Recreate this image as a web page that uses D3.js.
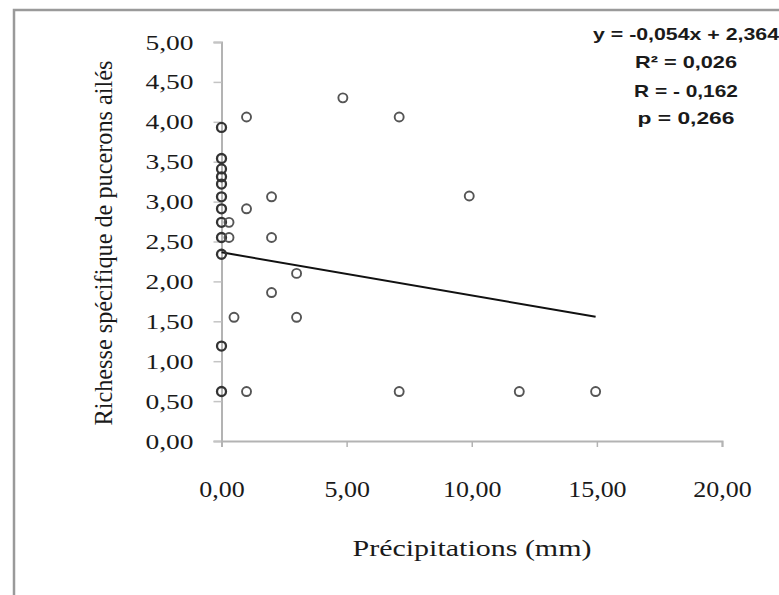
<!DOCTYPE html>
<html>
<head>
	<meta charset="utf-8">
	<title>Précipitations</title>
	<style>
		body { margin: 0; background: #fff; }
		svg { display: block; }
		.serif { font-family: "Liberation Serif", "Times New Roman", Times, serif; }
		.sans { font-family: "Liberation Sans", Arial, sans-serif; }
	</style>
</head>
<body>
	<svg width="779" height="595"></svg>
<script src="https://cdn.jsdelivr.net/npm/d3@7"></script>
<script>
	// données
	let precip = [0, 0, 0, 0, 0, 0, 0, 0, 0, 0, 0, 0,
		0.3, 0.3, 0.5, 1.0, 1.0, 1.0, 2.0, 2.0, 2.0, 3.0, 3.0,
		4.85, 7.1, 7.1, 9.9, 11.9, 14.95]
	let richesse = [3.93, 3.54, 3.41, 3.31, 3.22, 3.06, 2.91, 2.74, 2.55, 2.34, 1.19, 0.62,
		2.74, 2.55, 1.55, 4.06, 2.91, 0.62, 3.06, 2.55, 1.86, 2.10, 1.55,
		4.30, 4.06, 0.62, 3.07, 0.62, 0.62]
	let xTicks = [0, 5, 10, 15, 20]
	let yTicks = [0, 0.5, 1, 1.5, 2, 2.5, 3, 3.5, 4, 4.5, 5]
	let pente = -0.054, ordonnee = 2.364
	let stats = ["y = -0,054x + 2,364", "R² = 0,026", "R = - 0,162", "p =  0,266"]

	let svg = d3.select("svg")
	let fr = d3.formatLocale({ decimal: ",", thousands: " ", grouping: [3], currency: ["", " €"] })
	let fmt = fr.format(".2f")

	// étirement horizontal de l'image d'origine
	function widen(k) {
		return sel => sel.each(function () {
			let w = this.getComputedTextLength()
			d3.select(this).attr("textLength", w * k).attr("lengthAdjust", "spacingAndGlyphs")
		})
	}

	// cadre
	svg.append("rect")
		.attr("x", 14).attr("y", 10).attr("width", 800).attr("height", 620)
		.attr("fill", "none").attr("stroke", "#9a9a9a").attr("stroke-width", 2.5)

	let x = d3.scaleLinear().domain([0, 20]).range([221.5, 722])
	let y = d3.scaleLinear().domain([0, 5]).range([441, 42])

	// axe Y
	let gy = svg.append("g")
		.attr("transform", `translate(${x(0)},0)`)
		.call(d3.axisLeft(y).tickValues(yTicks).tickFormat(fmt).tickSize(8).tickPadding(20))
	gy.attr("font-family", null).attr("font-size", null)
	gy.select(".domain").attr("stroke", "#b3b3b3").attr("stroke-width", 2)
	gy.selectAll(".tick line").attr("stroke", "#c4c4c4").attr("stroke-width", 1.5)
	gy.selectAll(".tick text")
		.attr("class", "serif")
		.attr("font-size", 22).attr("fill", "#1a1a1a")
		.call(widen(1.25))

	// axe X
	let gx = svg.append("g")
		.attr("transform", `translate(0,${y(0)})`)
		.call(d3.axisBottom(x).tickValues(xTicks).tickFormat(fmt).tickSize(6).tickPadding(34))
	gx.attr("font-family", null).attr("font-size", null)
	gx.select(".domain").attr("stroke", "#b3b3b3").attr("stroke-width", 2)
	gx.selectAll(".tick line").attr("stroke", "#b3b3b3").attr("stroke-width", 1.5)
	gx.selectAll(".tick text")
		.attr("class", "serif")
		.attr("font-size", 23).attr("fill", "#1a1a1a")
		.call(widen(1.13))

	// titres des axes
	svg.append("text")
		.attr("class", "serif")
		.attr("x", 472).attr("y", 556)
		.attr("text-anchor", "middle")
		.attr("font-size", 23).attr("fill", "#1a1a1a")
		.text("Précipitations (mm)")
		.attr("textLength", 239).attr("lengthAdjust", "spacingAndGlyphs")

	svg.append("text")
		.attr("class", "serif")
		.attr("transform", "translate(112,243) scale(1.27,1) rotate(-90)")
		.attr("text-anchor", "middle")
		.attr("font-size", 19).attr("fill", "#1a1a1a")
		.text("Richesse spécifique de pucerons ailés")
		.attr("textLength", 365).attr("lengthAdjust", "spacingAndGlyphs")

	// droite de régression
	let xMax = d3.max(precip)
	svg.append("line")
		.attr("x1", x(0)).attr("y1", y(ordonnee))
		.attr("x2", x(xMax)).attr("y2", y(ordonnee + pente * xMax))
		.attr("stroke", "#111").attr("stroke-width", 2)

	// points
	svg.append("g").selectAll("circle").data(precip).enter().append("circle")
		.attr("cx", d => x(d))
		.attr("cy", (d, i) => y(richesse[i]))
		.attr("r", 4.5)
		.attr("fill", "none")
		.attr("stroke", d => d === 0 ? "#333" : "#555")
		.attr("stroke-width", d => d === 0 ? 2.3 : 1.9)

	// équation et statistiques
	let widths = [186, 102, 104, 97]
	let baselines = [40, 68, 97, 124]
	svg.append("g").selectAll("text").data(stats).enter().append("text")
		.attr("class", "sans")
		.attr("x", 686).attr("y", (d, i) => baselines[i])
		.attr("text-anchor", "middle")
		.attr("font-weight", "bold").attr("font-size", 17).attr("fill", "#1a1a1a")
		.text(d => d)
		.attr("textLength", (d, i) => widths[i]).attr("lengthAdjust", "spacingAndGlyphs")
</script>
</body>
</html>
